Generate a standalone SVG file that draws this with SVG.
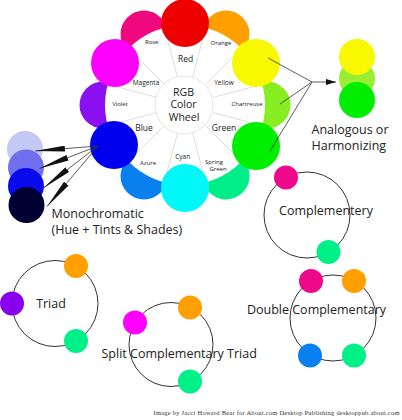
<svg xmlns="http://www.w3.org/2000/svg" width="402" height="420" viewBox="0 0 402 420">
<style>
text{font-family:"Open Sans","Liberation Sans",sans-serif;fill:#222}
.lbl{font-size:6px;text-anchor:middle}
.lbm{font-size:6.5px;text-anchor:middle}
.lbb{font-size:8.5px;text-anchor:middle}
.ctr{font-size:10.5px;text-anchor:middle}
.big{font-size:12.5px}
.spoke{stroke:#d4d4d4;stroke-width:0.8;fill:none}
.ring{stroke:#333;stroke-width:1;fill:none}
.link{stroke:#333;stroke-width:0.8;fill:none}
.credit{font-family:"Liberation Serif",serif;font-size:6.5px;fill:#333}
</style>
<defs>
<marker id="mono" markerUnits="userSpaceOnUse" viewBox="0 0 30 6" markerWidth="30" markerHeight="6" refX="30" refY="3" orient="auto"><path d="M0,0 L30,3 L0,6 z" fill="#111"/></marker>
<marker id="ana" markerUnits="userSpaceOnUse" viewBox="0 0 10 6" markerWidth="10" markerHeight="6" refX="10" refY="3" orient="auto"><path d="M0,0 L10,3 L0,6 z" fill="#111"/></marker>
</defs>
<rect width="402" height="420" fill="#fff"/>

<g id="wheel">
<g id="tertiary">
<circle cx="226" cy="34" r="23.5" fill="#ffa000"/>
<circle cx="267" cy="105" r="23.5" fill="#88ee22"/>
<circle cx="226" cy="176" r="23.5" fill="#00ee88"/>
<circle cx="144" cy="176" r="23.5" fill="#0a80f0"/>
<circle cx="103" cy="105" r="23.5" fill="#8a10f0"/>
<circle cx="144" cy="34" r="23.5" fill="#f0087f"/>
</g>
<circle cx="185" cy="105" r="80" fill="#fff"/>
<g id="spokes" class="spoke">
<line x1="192.5" y1="77" x2="205.7" y2="27.7"/>
<line x1="205.5" y1="84.5" x2="241.6" y2="48.4"/>
<line x1="213" y1="97.5" x2="262.3" y2="84.3"/>
<line x1="213" y1="112.5" x2="262.3" y2="125.7"/>
<line x1="205.5" y1="125.5" x2="241.6" y2="161.6"/>
<line x1="192.5" y1="133" x2="205.7" y2="182.3"/>
<line x1="177.5" y1="133" x2="164.3" y2="182.3"/>
<line x1="164.5" y1="125.5" x2="128.4" y2="161.6"/>
<line x1="157" y1="112.5" x2="107.7" y2="125.7"/>
<line x1="157" y1="97.5" x2="107.7" y2="84.3"/>
<line x1="164.5" y1="84.5" x2="128.4" y2="48.4"/>
<line x1="177.5" y1="77" x2="164.3" y2="27.7"/>
</g>
<g id="center">
<circle cx="184" cy="105" r="29" fill="#fff" stroke="#ddd" stroke-width="0.8"/>
<text class="ctr" x="183.5" y="95.5">RGB</text>
<text class="ctr" x="183.5" y="108">Color</text>
<text class="ctr" x="184" y="120.5">Wheel</text>
</g>
<g id="labels">
<text class="lbl" x="151.7" y="43.5">Rose</text>
<text class="lbb" x="185.7" y="62">Red</text>
<text class="lbl" x="221" y="44.8">Orange</text>
<text class="lbm" x="146" y="85.3">Magenta</text>
<text class="lbm" x="224" y="85">Yellow</text>
<text class="lbl" x="120" y="106.2">Violet</text>
<text class="lbl" x="247" y="106.2">Chartreuse</text>
<text class="lbb" x="144" y="131">Blue</text>
<text class="lbb" x="224" y="130.7">Green</text>
<text class="lbl" x="148" y="165.2">Azure</text>
<text class="lbm" x="182.7" y="159">Cyan</text>
<text class="lbl" x="214" y="164.2">Spring</text>
<text class="lbl" x="218" y="171.2">Green</text>
</g>
<g id="primary">
<circle id="red" cx="185" cy="23" r="24" fill="#ee0000"/>
<circle id="yellow" cx="256" cy="63" r="24" fill="#f8f800"/>
<circle id="green" cx="256" cy="146" r="24" fill="#00ee00"/>
<circle id="cyan" cx="185" cy="188" r="24" fill="#00f8f8"/>
<circle id="blue" cx="114" cy="145" r="24" fill="#0000ee"/>
<circle id="magenta" cx="115" cy="63" r="24" fill="#ff00ff"/>
</g>
</g>

<g id="monochromatic">
<circle cx="25" cy="149" r="18" fill="#c4c8f4"/>
<circle cx="26" cy="167.5" r="18" fill="#7070ee"/>
<circle cx="26" cy="186" r="18" fill="#0a0aee"/>
<circle cx="26.5" cy="205" r="18" fill="#000033"/>
<text class="big" x="51.5" y="217.5">Monochromatic</text>
<text class="big" x="51.5" y="234">(Hue + Tints &amp; Shades)</text>
</g>

<g id="analogous">
<circle cx="357" cy="78.5" r="18" fill="#99ee33"/>
<circle cx="357" cy="57" r="18" fill="#f8f800"/>
<circle cx="357" cy="100" r="18" fill="#00ee00"/>
<text class="big" x="311.5" y="133.5">Analogous or</text>
<text class="big" x="311.5" y="149.5">Harmonizing</text>
</g>

<g id="connectors">
<line class="link" x1="98" y1="146" x2="35" y2="151" marker-end="url(#mono)"/>
<line class="link" x1="98" y1="146" x2="39.5" y2="168.5" marker-end="url(#mono)"/>
<line class="link" x1="98" y1="146" x2="43.5" y2="188" marker-end="url(#mono)"/>
<line class="link" x1="98" y1="146" x2="47" y2="206.5" marker-end="url(#mono)"/>
<line class="link" x1="268" y1="58" x2="312" y2="82"/>
<line class="link" x1="280" y1="104" x2="312" y2="82"/>
<line class="link" x1="270" y1="151" x2="312" y2="82"/>
<line class="link" x1="312" y1="82" x2="336" y2="82" marker-end="url(#ana)"/>
</g>

<g id="complementary">
<circle class="ring" cx="307" cy="215" r="43"/>
<circle cx="286" cy="177.5" r="12" fill="#f0088a"/>
<circle cx="328.5" cy="252" r="12" fill="#00f088"/>
<text class="big" x="326" y="215" text-anchor="middle">Complementery</text>
</g>

<g id="triad">
<circle class="ring" cx="55" cy="303.5" r="43"/>
<circle cx="76" cy="266" r="12" fill="#ffa000"/>
<circle cx="12" cy="303.5" r="12" fill="#8800ee"/>
<circle cx="76" cy="341" r="12" fill="#00f088"/>
<text class="big" x="51" y="308" text-anchor="middle">Triad</text>
</g>

<g id="split">
<circle class="ring" cx="171" cy="344.5" r="42"/>
<circle cx="135" cy="322.5" r="12" fill="#ff00ff"/>
<circle cx="190" cy="307.5" r="12" fill="#ffa000"/>
<circle cx="190" cy="381.5" r="12" fill="#00f088"/>
<text class="big" x="101.5" y="357.5">Split Complementary Triad</text>
</g>

<g id="double">
<circle class="ring" cx="333" cy="318" r="43"/>
<circle cx="311" cy="281" r="12" fill="#f0088a"/>
<circle cx="354" cy="281" r="12" fill="#ffa000"/>
<circle cx="310" cy="355.5" r="12" fill="#0a80f0"/>
<circle cx="354" cy="355.5" r="12" fill="#00f088"/>
<text class="big" x="316.5" y="314" text-anchor="middle">Double Complementary</text>
</g>

<text class="credit" x="153.5" y="415" textLength="246">Image by Jacci Howard Bear for About.com Desktop Publishing desktoppub.about.com</text>
</svg>
